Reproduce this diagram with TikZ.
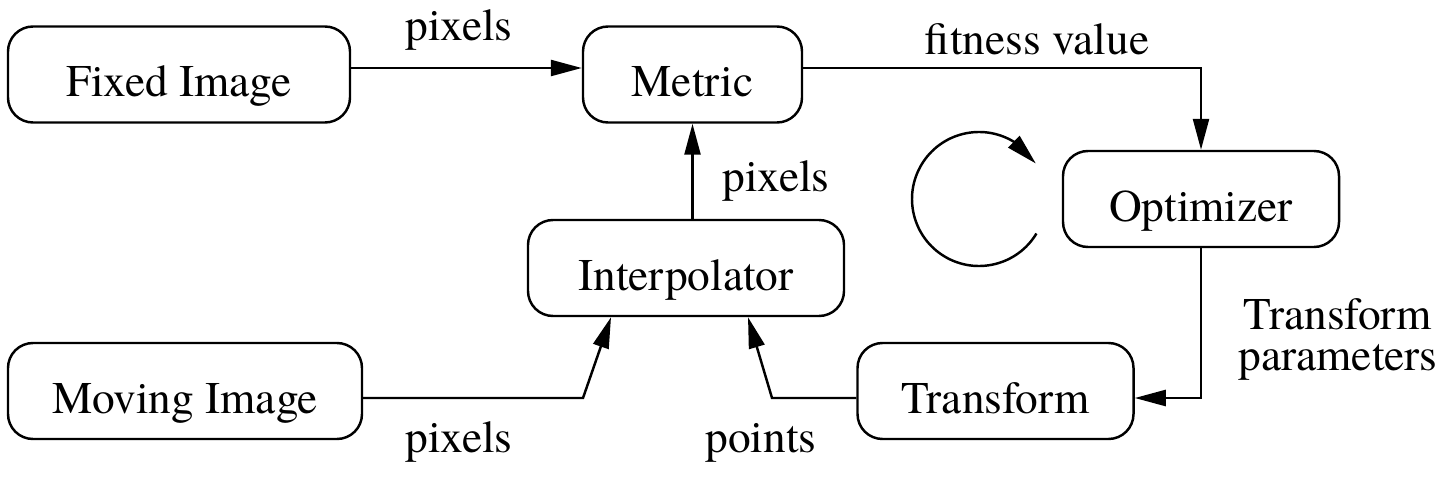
\documentclass[tikz,border=0pt]{standalone}
\usepackage{fontspec}
\newfontfamily\figfont{texgyretermes-regular.otf}
\usetikzlibrary{arrows.meta, bending}

\begin{document}
\begin{tikzpicture}[>={Triangle[length=.62cm, width=.32cm]}, line width=1.4pt,
         box/.style={
         % The shape:
         rectangle, rounded corners=.5cm,
         % The size:
         minimum height=1.92cm,
         % The border
         draw=black,
         % Font
         text height=.9cm, text depth=0pt,
         font=\figfont\fontsize{25.8}{31}\selectfont},
         lbl/.style={anchor=base, font=\figfont\fontsize{25.8}{31}\selectfont}]
         \useasboundingbox (0,0) rectangle (29.02,-9.56);
         % boxes
         \node[box, minimum width=6.84cm] (fixed) at (3.58,-1.49) {Fixed Image};
         \node[box, minimum width=4.38cm] (metric) at (13.85,-1.49) {Metric};
         \node[box, minimum width=5.52cm] (optim) at (24.02,-3.98) {Optimizer};
         \node[box, minimum width=6.32cm] (interp) at (13.72,-5.36) {Interpolator};
         \node[box, minimum width=7.08cm] (moving) at (3.70,-7.82) {Moving Image};
         \node[box, minimum width=5.52cm] (transf) at (19.91,-7.82) {Transform};
         % labels
         \node[lbl] (fixlbl) at (9.18,-0.82) {pixels};
         \node[lbl] (fitlbl) at (20.74,-1.10) {fitness value};
         \node[lbl] (intlbl) at (15.52,-3.82) {pixels};
         \node[lbl] (parlbl) at (26.76,-6.58) {Transform};
         \node[lbl] (parlblb) at (26.76,-7.40) {parameters};
         \node[lbl] (movlbl) at (9.18,-9.04) {pixels};
         \node[lbl] (ptslbl) at (15.22,-9.04) {points};
         % connectors
         \coordinate (mvbend) at (11.66,-7.96);
         \coordinate (trbend) at (15.44,-7.96);
         \coordinate (loop) at (19.58,-3.98);
         \draw[->] ([yshift=.13cm]fixed.east) -- ([yshift=.13cm]metric.west);
         \draw[->] ([yshift=.13cm]metric.east) -| (optim.north);
         \draw[->] (interp.north -| metric.south) -- (metric.south);
         \draw[->] ([yshift=-.14cm]moving.east) -- (mvbend) -- ([xshift=-1.5cm]interp.south);
         \draw[->] ([yshift=-.14cm]transf.west) -- (trbend) -- ([xshift=1.24cm]interp.south);
         \draw[->] (optim.south) |- ([yshift=-.14cm]transf.east);
         %% the loop
         \draw[->] ([shift={(-31:1.34cm)}]loop) arc[start angle=-31, end angle=-328, radius=1.34cm];
      \end{tikzpicture}
\end{document}
